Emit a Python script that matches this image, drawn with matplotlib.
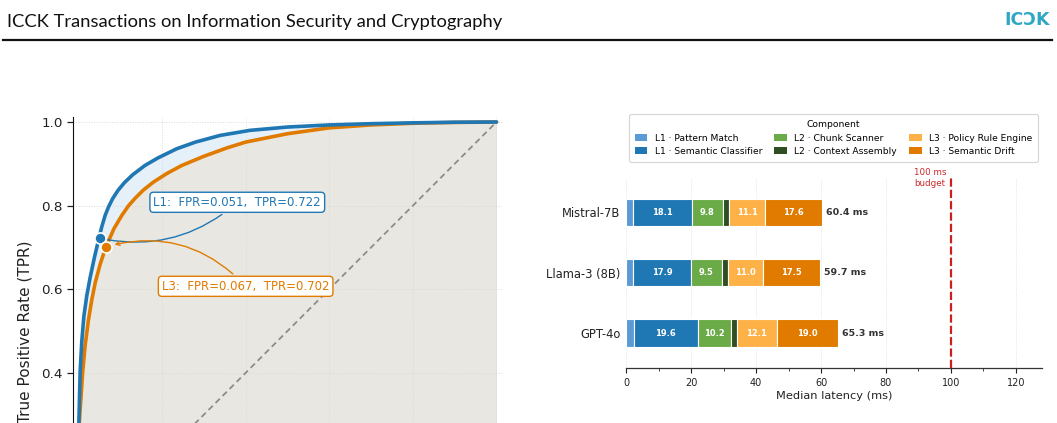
import matplotlib
matplotlib.use("Agg")
import matplotlib.pyplot as plt
import matplotlib.transforms as mtransforms
from matplotlib.patches import Patch
import numpy as np

# ---------------- data ----------------
# ROC curves
l1_fpr = [0.0, 0.0005, 0.001, 0.004, 0.008, 0.013, 0.020, 0.028, 0.038, 0.049, 0.056, 0.064,
          0.072, 0.082, 0.095, 0.111, 0.130, 0.159, 0.190, 0.235, 0.280, 0.339, 0.410,
          0.500, 0.600, 0.700, 0.800, 0.900, 1.0]
l1_tpr = [0.0, 0.15, 0.28, 0.40, 0.475, 0.535, 0.585, 0.628, 0.675, 0.722, 0.750, 0.777,
          0.797, 0.817, 0.837, 0.856, 0.874, 0.896, 0.914, 0.936, 0.952, 0.968, 0.980,
          0.988, 0.993, 0.996, 0.998, 0.9995, 1.0]
l3_fpr = [0.0, 0.001, 0.002, 0.010, 0.016, 0.024, 0.032, 0.040, 0.052, 0.066, 0.085, 0.104,
          0.120, 0.135, 0.155, 0.179, 0.210, 0.247, 0.300, 0.355, 0.400, 0.500, 0.600,
          0.700, 0.800, 0.900, 1.0]
l3_tpr = [0.0, 0.15, 0.28, 0.40, 0.465, 0.527, 0.575, 0.615, 0.660, 0.702, 0.745, 0.777,
          0.800, 0.817, 0.837, 0.856, 0.876, 0.896, 0.918, 0.938, 0.952, 0.972, 0.986,
          0.993, 0.997, 0.999, 1.0]
l1_point = (0.051, 0.722)
l3_point = (0.067, 0.702)
yticks_left = [0.4, 0.6, 0.8, 1.0]

# Latency breakdown
models = ["Mistral-7B", "Llama-3 (8B)", "GPT-4o"]
components = ["L1 \u00b7 Pattern Match", "L1 \u00b7 Semantic Classifier",
              "L2 \u00b7 Chunk Scanner", "L2 \u00b7 Context Assembly",
              "L3 \u00b7 Policy Rule Engine", "L3 \u00b7 Semantic Drift"]
pattern_match = [2.0, 2.0, 2.4]
semantic_classifier = [18.1, 17.9, 19.6]
chunk_scanner = [9.8, 9.5, 10.2]
context_assembly = [1.8, 1.8, 2.0]
policy_rule_engine = [11.1, 11.0, 12.1]
semantic_drift = [17.6, 17.5, 19.0]
budget_ms = 100
xticks_right = [0, 20, 40, 60, 80, 100, 120]

comp_colors = ["#5b9bd5", "#1f77b4", "#6aab47", "#2f4f22", "#fdb147", "#e07b00"]
BLUE = "#1f77b4"
ORANGE = "#e07b00"

W, H = 1057, 423
fig = plt.figure(figsize=(W / 100, H / 100), dpi=100)

def fx(px):
    return px / W

def fy(py):
    return 1 - py / H

# ---------------- page header ----------------
fig.text(fx(7), fy(22), "ICCK Transactions on Information Security and Cryptography",
         family="Lato", fontsize=13.2, color="#111111", ha="left", va="center")
fig.text(fx(1050), fy(20), "IC\u0186K", family="DejaVu Sans", fontweight="bold",
         fontsize=12.5, color="#2fa7c3", ha="right", va="center")
fig.add_artist(plt.Line2D([fx(3), fx(1052)], [fy(40), fy(40)], color="#111111", lw=1.6))

# ---------------- left: ROC ----------------
axl = fig.add_axes([fx(73), fy(117 + 428.5), fx(428.5), 428.5 / H])
axl.set_xlim(-0.013, 1.012)
axl.set_ylim(-0.013, 1.012)
axl.set_facecolor("white")

grid_x = np.linspace(0, 1, 801)
l1_i = np.interp(grid_x, l1_fpr, l1_tpr)
l3_i = np.interp(grid_x, l3_fpr, l3_tpr)
axl.fill_between(l3_fpr, 0, l3_tpr, color="#e9e7e2", lw=0, zorder=1)
axl.fill_between(grid_x, l3_i, l1_i, color="#e6f0f9", lw=0, zorder=1)
for v in [0.2, 0.4, 0.6, 0.8, 1.0]:
    axl.axvline(v, color="#d9d9d9", lw=0.7, ls=":", zorder=1.5)
    axl.axhline(v, color="#d9d9d9", lw=0.7, ls=":", zorder=1.5)
axl.plot([0, 1], [0, 1], color="#8c8c8c", lw=1.3, ls=(0, (3.3, 2.2)), zorder=2)
axl.plot(l3_fpr, l3_tpr, color=ORANGE, lw=2.6, zorder=3, solid_capstyle="round",
         solid_joinstyle="round")
axl.plot(l1_fpr, l1_tpr, color=BLUE, lw=2.6, zorder=3.2, solid_capstyle="round",
         solid_joinstyle="round")
axl.plot(*l1_point, "o", ms=8, color=BLUE, mec="white", mew=1.2, zorder=5)
axl.plot(*l3_point, "o", ms=8, color=ORANGE, mec="white", mew=1.2, zorder=5)

axl.annotate(f"L1:  FPR={l1_point[0]:.3f},  TPR={l1_point[1]:.3f}", xy=l1_point,
             xytext=(0.38, 0.808), textcoords="data", fontsize=8.5, color=BLUE,
             ha="center", va="center",
             bbox=dict(boxstyle="round,pad=0.3", fc="white", ec=BLUE, lw=1),
             arrowprops=dict(arrowstyle="-", color=BLUE, lw=1,
                             connectionstyle="arc3,rad=-0.25", shrinkB=6),
             zorder=6)
axl.annotate(f"L3:  FPR={l3_point[0]:.3f},  TPR={l3_point[1]:.3f}", xy=l3_point,
             xytext=(0.40, 0.607), textcoords="data", fontsize=8.5, color=ORANGE,
             ha="center", va="center",
             bbox=dict(boxstyle="round,pad=0.3", fc="white", ec=ORANGE, lw=1),
             arrowprops=dict(arrowstyle="->", color=ORANGE, lw=1, mutation_scale=7,
                             connectionstyle="arc3,rad=0.3", shrinkB=6),
             zorder=6)

axl.set_yticks(yticks_left)
axl.set_yticklabels([f"{v:.1f}" for v in yticks_left])
axl.set_xticks([])
axl.tick_params(axis="y", labelsize=9.7, length=4, width=0.9, colors="#222222")
for s in ["top", "right"]:
    axl.spines[s].set_visible(False)
axl.spines["left"].set_color("#111111")
axl.spines["bottom"].set_color("#111111")
axl.set_ylabel("True Positive Rate (TPR)", fontsize=11, color="#222222", labelpad=6)

# ---------------- right: latency breakdown ----------------
axr = fig.add_axes([fx(626.3), fy(368.3), fx(415.5), (368.3 - 178) / H])
series = [pattern_match, semantic_classifier, chunk_scanner, context_assembly,
          policy_rule_engine, semantic_drift]
ypos = [2, 1, 0]
left = np.zeros(len(models))
for vals, col in zip(series, comp_colors):
    vals = np.array(vals)
    axr.barh(ypos, vals, left=left, height=0.45, color=col, edgecolor="white",
             linewidth=0.8, zorder=3)
    for y, l, v in zip(ypos, left, vals):
        if v >= 5:
            axr.text(l + v / 2, y, f"{v:.1f}", ha="center", va="center",
                     fontsize=6, fontweight="bold", color="white", zorder=4)
    left = left + vals
for y, tot in zip(ypos, left):
    axr.text(tot + 1.2, y, f"{tot:.1f} ms", ha="left", va="center", fontsize=6.8,
             fontweight="bold", color="#333333", zorder=4)

axr.axvline(budget_ms, color="#cc1f1f", lw=1.6, ls=(0, (3.7, 1.4)), zorder=4)
trans = mtransforms.blended_transform_factory(axr.transData, axr.transAxes)
axr.text(budget_ms - 1.4, 1.0, f"{budget_ms} ms\nbudget", transform=trans, ha="right",
         va="center", multialignment="center", fontsize=6.3, color="#cc2a2a")

axr.set_xlim(0, 128)
axr.set_ylim(-0.585, 2.57)
axr.set_yticks(ypos)
axr.set_yticklabels(models)
axr.set_xticks(xticks_right)
axr.set_xticks([10, 30, 50, 70, 90, 110], minor=True)
axr.tick_params(axis="y", length=0, labelsize=8.3, colors="#222222", pad=4)
axr.tick_params(axis="x", which="major", length=3.5, width=0.8, labelsize=7, colors="#222222")
axr.tick_params(axis="x", which="minor", length=2, width=0.6, colors="#222222")
axr.xaxis.grid(True, color="#dddddd", lw=0.6, ls=":", zorder=0)
axr.set_axisbelow(True)
for s in ["top", "right", "left"]:
    axr.spines[s].set_visible(False)
axr.spines["bottom"].set_color("#333333")
axr.spines["bottom"].set_linewidth(0.9)
axr.set_xlabel("Median latency (ms)", fontsize=8.2, color="#222222", labelpad=2)

handles = [Patch(facecolor=c, edgecolor="none", label=l) for c, l in zip(comp_colors, components)]
leg = fig.legend(handles=handles, ncol=3, loc="upper center",
                 bbox_to_anchor=(fx(833.5), fy(114)), borderaxespad=0, fontsize=6.6,
                 title="Component", title_fontsize=6.6, frameon=True,
                 handlelength=1.4, handleheight=0.8, handletextpad=0.8,
                 columnspacing=1.3, labelspacing=0.5, borderpad=0.65)
leg.get_frame().set_edgecolor("#cccccc")
leg.get_frame().set_linewidth(0.8)

fig.savefig("out.png", dpi=100)
